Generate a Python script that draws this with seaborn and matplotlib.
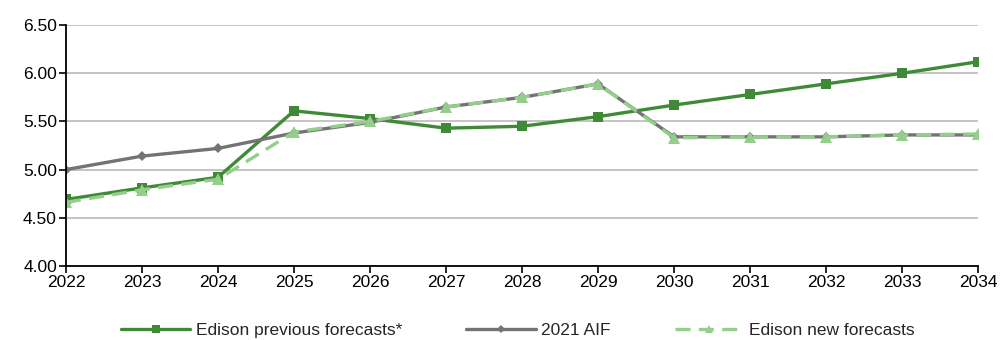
import matplotlib
matplotlib.use("Agg")
import matplotlib.pyplot as plt
import seaborn as sns
from matplotlib.ticker import FormatStrFormatter, MultipleLocator

years = [2022, 2023, 2024, 2025, 2026, 2027, 2028, 2029, 2030, 2031, 2032, 2033, 2034]
edison_previous = [4.69, 4.81, 4.92, 5.61, 5.53, 5.43, 5.45, 5.55, 5.67, 5.78, 5.89, 6.00, 6.12]
aif_2021 = [5.00, 5.14, 5.22, 5.38, 5.49, 5.65, 5.75, 5.89, 5.34, 5.34, 5.34, 5.36, 5.36]
edison_new = [4.66, 4.79, 4.90, 5.39, 5.50, 5.65, 5.75, 5.89, 5.33, 5.34, 5.34, 5.36, 5.37]

labels = ["Edison previous forecasts*", "2021 AIF", "Edison new forecasts"]

sns.set_theme(style="white")
plt.rcParams["font.family"] = ["Liberation Sans", "DejaVu Sans"]

fig = plt.figure(figsize=(10, 3.4), dpi=100)
ax = fig.add_axes([0.066, 0.218, 0.912, 0.708])

dark_green = "#3E8A36"
grey = "#737373"
light_green = "#93CF8B"

sns.lineplot(x=years, y=edison_previous, ax=ax, color=dark_green, linewidth=2.4,
             marker="s", markersize=7, markeredgewidth=0, label=labels[0])
sns.lineplot(x=years, y=aif_2021, ax=ax, color=grey, linewidth=2.4,
             marker="D", markersize=5, markeredgewidth=0, label=labels[1])
sns.lineplot(x=years, y=edison_new, ax=ax, color=light_green, linewidth=2.4,
             marker="^", markersize=8, markeredgewidth=0, label=labels[2])
ax.lines[-1].set_dashes([4.5, 2.5])

ax.set_xlim(2022, 2034)
ax.set_ylim(4.0, 6.5)
ax.set_xticks(years)
ax.yaxis.set_major_locator(MultipleLocator(0.5))
ax.yaxis.set_major_formatter(FormatStrFormatter("%.2f"))
ax.grid(axis="y", color="#BFBFBF", linewidth=1.3)
ax.set_axisbelow(True)

for side in ["top", "right"]:
    ax.spines[side].set_visible(False)
for side in ["left", "bottom"]:
    ax.spines[side].set_color("black")
    ax.spines[side].set_linewidth(1.3)

ax.tick_params(axis="both", which="major", direction="out", length=5, width=1.2,
               color="black", labelsize=12.5, labelcolor="black", pad=1.5)
ax.tick_params(axis="x", bottom=True)
ax.tick_params(axis="y", left=True)
ax.set_xlabel("")
ax.set_ylabel("")

handles, texts = ax.get_legend_handles_labels()
ax.get_legend().remove()
fig.legend(handles, texts, loc="center", bbox_to_anchor=(0.518, 0.027), ncol=3,
           frameon=False, fontsize=12.5, handlelength=4.0, columnspacing=3.7,
           handletextpad=0.3, borderaxespad=0, borderpad=0, markerscale=0.75)

fig.savefig("out.png", dpi=100)
